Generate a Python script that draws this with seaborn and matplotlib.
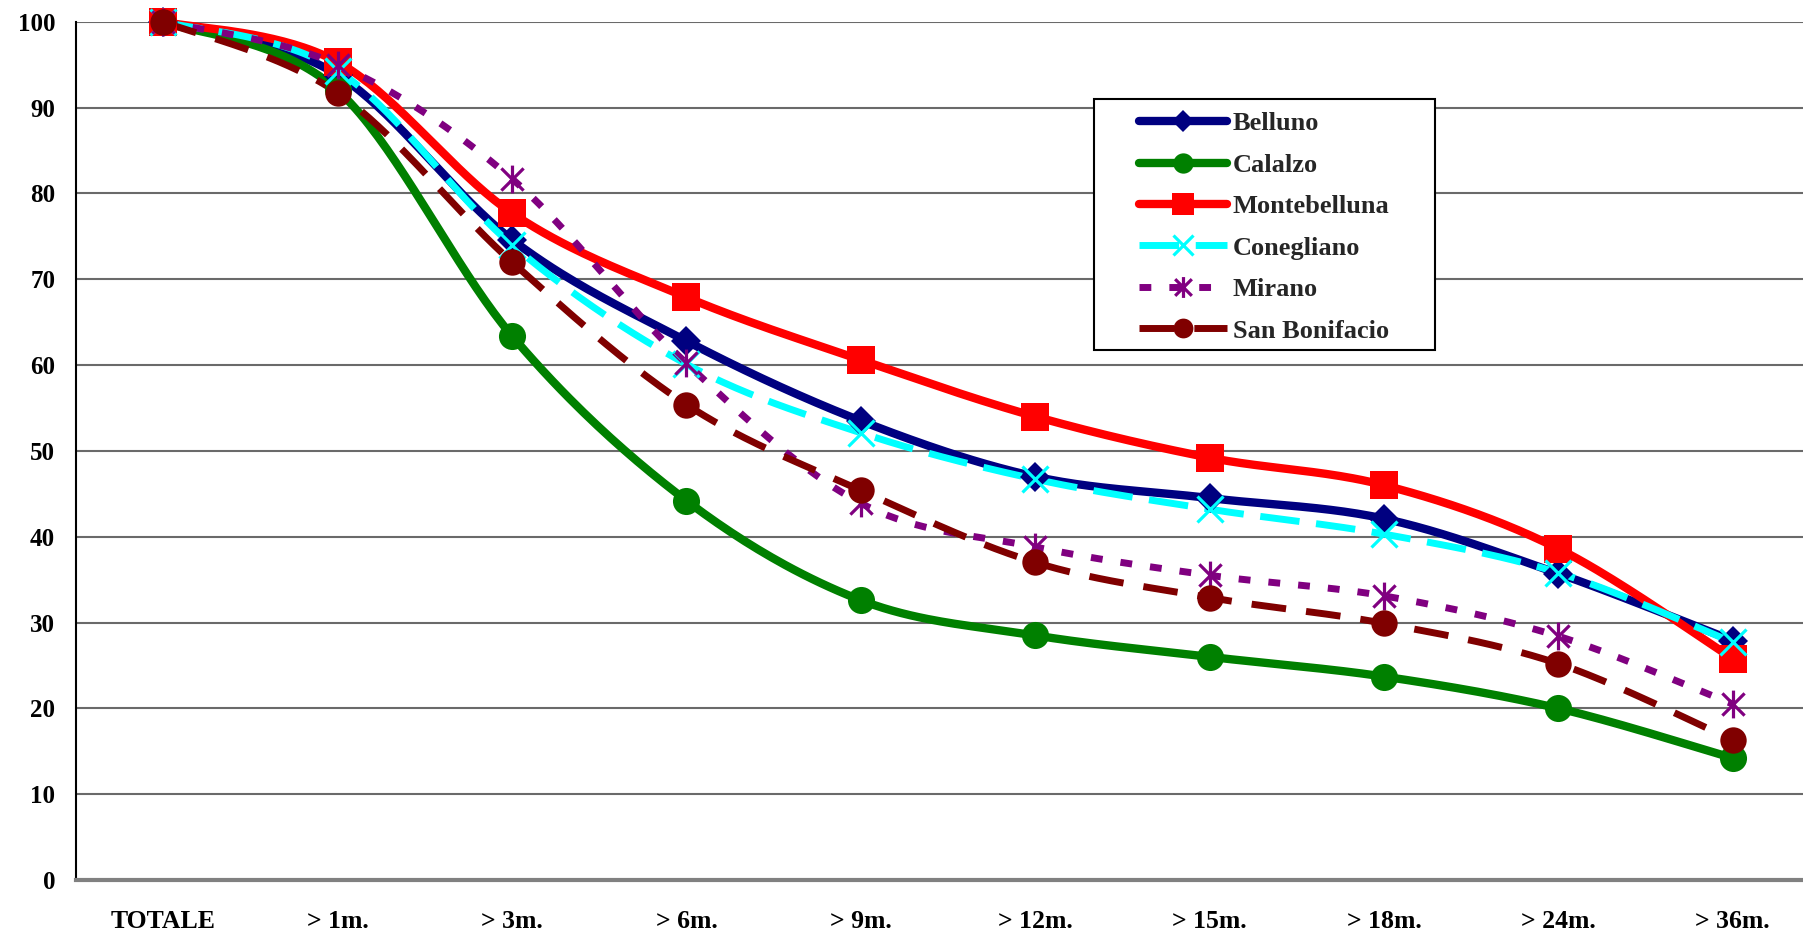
import numpy as np
import matplotlib
matplotlib.use("Agg")
import matplotlib.pyplot as plt
import seaborn as sns
from matplotlib.lines import Line2D
from matplotlib.path import Path
from matplotlib.patches import Rectangle

categories = ["TOTALE", "> 1m.", "> 3m.", "> 6m.", "> 9m.", "> 12m.", "> 15m.", "> 18m.", "> 24m.", "> 36m."]
belluno = [100, 93.8, 74.6, 62.8, 53.5, 47.0, 44.5, 42.1, 35.7, 27.9]
calalzo = [100, 92.0, 63.4, 44.2, 32.6, 28.5, 26.0, 23.7, 20.0, 14.2]
montebelluna = [100, 95.3, 77.7, 67.9, 60.6, 54.0, 49.2, 46.0, 38.6, 25.8]
conegliano = [100, 94.3, 74.0, 60.1, 52.1, 46.7, 43.2, 40.3, 35.8, 27.7]
mirano = [100, 95.0, 81.7, 60.2, 43.9, 38.8, 35.5, 33.1, 28.4, 20.5]
san_bonifacio = [100, 91.7, 72.0, 55.4, 45.4, 37.0, 32.9, 29.9, 25.2, 16.3]
series_names = ["Belluno", "Calalzo", "Montebelluna", "Conegliano", "Mirano", "San Bonifacio"]

sns.set_theme(style="white")
plt.rcParams["font.family"] = ["Liberation Serif", "DejaVu Serif"]
plt.rcParams["font.weight"] = "bold"

asterisk = Path([(0, -1), (0, 1), (-0.8, -0.8), (0.8, 0.8), (-0.8, 0.8), (0.8, -0.8)],
                [Path.MOVETO, Path.LINETO, Path.MOVETO, Path.LINETO, Path.MOVETO, Path.LINETO])

styles = [
    dict(color="#000080", lw=6.0, ls="-", marker="D", ms=15, mew=0, filled=True),
    dict(color="#008000", lw=6.0, ls="-", marker="o", ms=19.5, mew=0, filled=True),
    dict(color="#FF0000", lw=6.0, ls="-", marker="s", ms=20.5, mew=0, filled=True),
    dict(color="#00FFFF", lw=5.0, ls=(0, (5.7, 2.4)), marker="x", ms=19, mew=2.3, filled=False),
    dict(color="#800080", lw=5.0, ls=(0, (1.7, 2.6)), marker=asterisk, ms=20, mew=2.3, filled=False),
    dict(color="#800000", lw=5.0, ls=(0, (5.0, 2.9)), marker="o", ms=19, mew=0, filled=True),
]
data = [belluno, calalzo, montebelluna, conegliano, mirano, san_bonifacio]


def smooth(xs, ys, n=40):
    pts = np.column_stack([xs, ys]).astype(float)
    m = len(pts)
    out = []
    t = np.linspace(0, 1, n)[:, None]
    for i in range(m - 1):
        p0 = pts[max(i - 1, 0)]
        p1 = pts[i]
        p2 = pts[i + 1]
        p3 = pts[min(i + 2, m - 1)]
        c1 = p1 + (p2 - p0) / 6.0
        c2 = p2 - (p3 - p1) / 6.0
        seg = ((1 - t) ** 3) * p1 + 3 * ((1 - t) ** 2) * t * c1 + 3 * (1 - t) * t ** 2 * c2 + t ** 3 * p2
        out.append(seg if i == 0 else seg[1:])
    s = np.vstack(out)
    return s[:, 0], s[:, 1]


W, H = 1803, 932
fig = plt.figure(figsize=(W / 100, H / 100), dpi=100)
left = 76 / W
right = 1820 / W
bottom = 1 - 880 / H
top = 1 - 21.7 / H
ax = fig.add_axes([left, bottom, right - left, top - bottom])

x = np.arange(len(categories))
for vals, st in zip(data, styles):
    sx, sy = smooth(x, vals)
    sns.lineplot(x=sx, y=sy, sort=False, estimator=None, color=st["color"], lw=st["lw"],
                 linestyle=st["ls"], ax=ax, zorder=3, clip_on=False, legend=False)
for vals, st in zip(data, styles):
    ax.plot(x, vals, ls="none", marker=st["marker"], ms=st["ms"], color=st["color"],
            mec=st["color"], mew=st["mew"], zorder=4, clip_on=False)

ax.set_xlim(-0.5, len(categories) - 0.5)
ax.set_ylim(0, 100)
ax.set_yticks(np.arange(0, 101, 10))
ax.set_yticklabels([str(v) for v in range(0, 101, 10)], fontsize=18, fontweight="bold")
ax.set_xticks(x)
ax.set_xticklabels(categories, fontsize=18.5, fontweight="bold")
ax.set_xticks(np.arange(-0.5, len(categories), 1.0), minor=True)
ax.tick_params(axis="x", which="major", length=0, pad=21.5, colors="black")
ax.tick_params(axis="x", which="minor", length=7, width=1.2, color="#808080", direction="out")
ax.tick_params(axis="y", which="major", length=6, width=1.2, direction="out", pad=9, colors="black")
ax.tick_params(axis="y", color="#808080")
ax.tick_params(axis="x", which="minor", color="#808080")
ax.yaxis.grid(True, color="#6a6a6a", lw=1.5)
ax.xaxis.grid(False)
ax.set_axisbelow(True)
for s in ["top", "right"]:
    ax.spines[s].set_visible(False)
ax.spines["left"].set_color("black")
ax.spines["left"].set_linewidth(1.5)
ax.spines["bottom"].set_color("#808080")
ax.spines["bottom"].set_linewidth(3)
ax.set_xlabel("")
ax.set_ylabel("")

# legend box
fig.patches.append(Rectangle((1094 / W, 1 - 350 / H), (1435 - 1094) / W, (350 - 99) / H,
                             transform=fig.transFigure, facecolor="white", edgecolor="black",
                             lw=1.5, zorder=5))
handles = []
for st in styles:
    handles.append(Line2D([], [], color=st["color"], lw=st["lw"], ls=st["ls"], marker=st["marker"],
                          ms=st["ms"], mec=st["color"], mew=st["mew"]))
leg = fig.legend(handles, series_names, loc="upper left", bbox_to_anchor=(1139 / W, 1 - 112 / H),
                 frameon=False, borderpad=0, borderaxespad=0, handlelength=3.35, handletextpad=0.2,
                 labelspacing=0.68, markerscale=0.75, prop={"size": 19, "weight": "bold",
                                                            "family": ["Liberation Serif"]})
leg.set_zorder(6)

fig.savefig("out.png", dpi=100)
